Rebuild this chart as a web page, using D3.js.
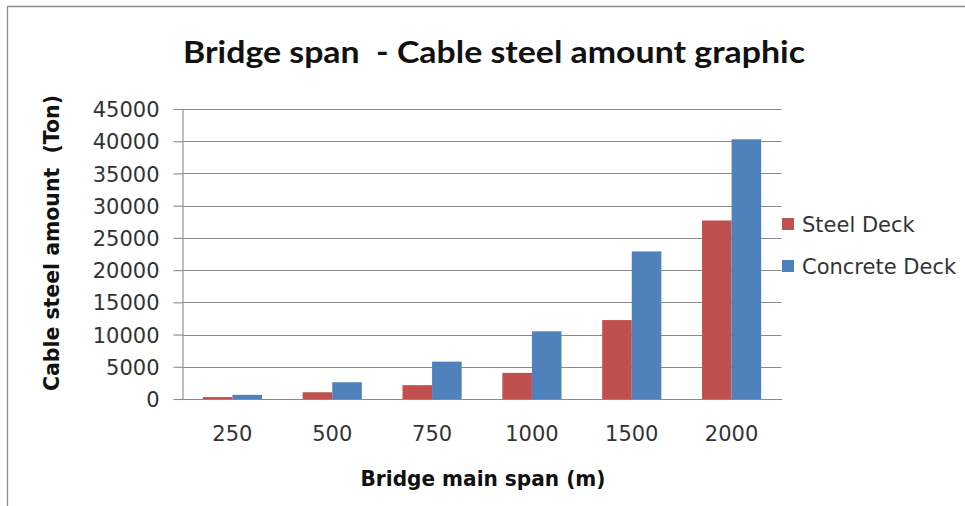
<!DOCTYPE html>
<html>
<head>
<meta charset="utf-8">
<script src="https://cdn.jsdelivr.net/npm/d3@7/dist/d3.min.js"></script>
<style>
  html, body { margin: 0; padding: 0; background: #fff; }
  svg { display: block; }
  text { white-space: pre; }
</style>
</head>
<body>
<svg id="chart" width="965" height="506"></svg>
<script>
// ---- data ----
const categories = ["250", "500", "750", "1000", "1500", "2000"];
const seriesNames = ["Steel Deck", "Concrete Deck"];
const steelDeck = [300, 1050, 2150, 4050, 12250, 27700];
const concreteDeck = [650, 2600, 5800, 10500, 22900, 40300];
const yTicks = [0, 5000, 10000, 15000, 20000, 25000, 30000, 35000, 40000, 45000];
const seriesColors = ["#C0504D", "#4F81BD"];

const chartTitle = "Bridge span  - Cable steel amount graphic";
const xTitle = "Bridge main span (m)";
const yTitle = "Cable steel amount  (Ton)";

// ---- layout ----
const svg = d3.select("#chart");
const plotL = 182.5, plotR = 781.5, plotT = 109, plotB = 399;

const x = d3.scaleBand().domain(categories).range([plotL, plotR]).paddingInner(0).paddingOuter(0);
const xi = d3.scaleBand().domain(seriesNames).range([0, x.bandwidth()]).paddingInner(0).paddingOuter(0.688);
const y = d3.scaleLinear().domain([0, 45000]).range([plotB, plotT]);

// outer frame (partial, as in reference)
svg.append("line").attr("x1", 7).attr("x2", 965).attr("y1", 6.5).attr("y2", 6.5)
  .attr("stroke", "#8c8c8c").attr("stroke-width", 1.3);
svg.append("line").attr("x1", 7.5).attr("x2", 7.5).attr("y1", 6).attr("y2", 506)
  .attr("stroke", "#8c8c8c").attr("stroke-width", 1.3);

// gridlines
svg.append("g").selectAll("line").data(yTicks.filter(d => d > 0)).join("line")
  .attr("x1", plotL).attr("x2", plotR)
  .attr("y1", d => Math.round(y(d)) + 0.5).attr("y2", d => Math.round(y(d)) + 0.5)
  .attr("stroke", "#8a8a8a").attr("stroke-width", 1.1);

// bars
const rows = categories.map((c, i) => ({ cat: c, vals: [steelDeck[i], concreteDeck[i]] }));
const g = svg.append("g");
rows.forEach(r => {
  r.vals.forEach((v, k) => {
    g.append("rect")
      .attr("x", x(r.cat) + xi(seriesNames[k]))
      .attr("width", xi.bandwidth())
      .attr("y", y(v))
      .attr("height", y(0) - y(v))
      .attr("fill", seriesColors[k]);
  });
});

// y axis
const yAxis = d3.axisLeft(y).tickValues(yTicks).tickSize(9).tickPadding(14).tickFormat(d3.format("d"));
const ya = svg.append("g").attr("transform", `translate(${plotL},0)`).call(yAxis);
ya.select(".domain").attr("stroke", "#8a8a8a").attr("stroke-width", 1.1);
ya.selectAll(".tick line").attr("stroke", "#8a8a8a").attr("stroke-width", 1.1);
ya.selectAll(".tick text").attr("font-family", "DejaVu Sans").attr("font-size", 21).attr("fill", "#333").attr("dy", "0.36em");

// x axis (baseline only, no ticks)
const xAxis = d3.axisBottom(x).tickSize(0).tickPadding(27);
const xa = svg.append("g").attr("transform", `translate(0,${plotB})`).call(xAxis);
xa.select(".domain").attr("stroke", "#8a8a8a").attr("stroke-width", 1.1);
xa.selectAll(".tick text").attr("font-family", "DejaVu Sans").attr("font-size", 21).attr("fill", "#333");

// titles
svg.append("text").attr("x", 494).attr("y", 63).attr("text-anchor", "middle")
  .attr("font-family", "Lato").attr("font-weight", "bold").attr("font-size", 30)
  .attr("fill", "#111").attr("textLength", 622).attr("lengthAdjust", "spacingAndGlyphs")
  .text(chartTitle);

svg.append("text").attr("x", 483).attr("y", 486).attr("text-anchor", "middle")
  .attr("font-family", "DejaVu Sans").attr("font-weight", "bold").attr("font-size", 21)
  .attr("fill", "#111").attr("textLength", 245).attr("lengthAdjust", "spacingAndGlyphs")
  .text(xTitle);

svg.append("text").attr("transform", "translate(59,243) rotate(-90)").attr("text-anchor", "middle")
  .attr("font-family", "DejaVu Sans").attr("font-weight", "bold").attr("font-size", 21)
  .attr("fill", "#111").attr("textLength", 296).attr("lengthAdjust", "spacingAndGlyphs")
  .text(yTitle);

// legend
const lg = svg.append("g");
seriesNames.forEach((name, k) => {
  const cy = 224 + k * 42;
  lg.append("rect").attr("x", 782).attr("y", cy - 6).attr("width", 12).attr("height", 12).attr("fill", seriesColors[k]);
  lg.append("text").attr("x", 802).attr("y", cy + 7.5)
    .attr("font-family", "DejaVu Sans").attr("font-size", 21).attr("fill", "#333").text(name);
});
</script>
</body>
</html>
